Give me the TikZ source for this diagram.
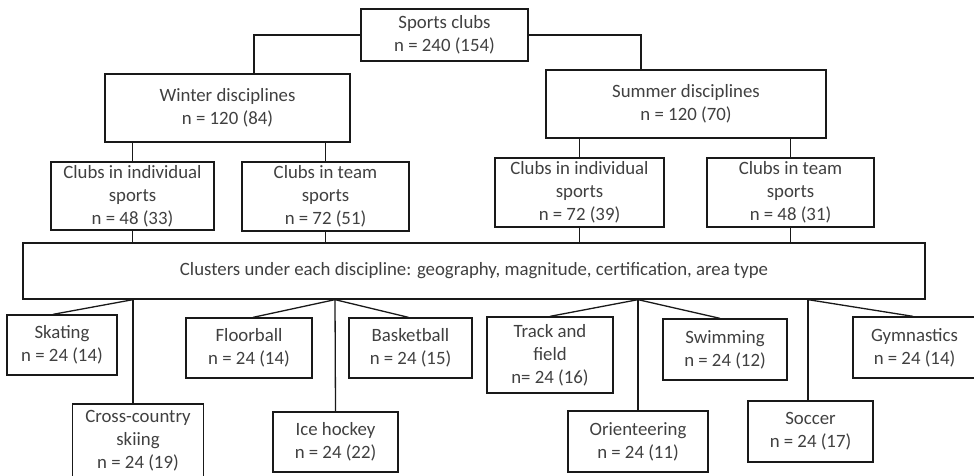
\documentclass[tikz,border=0pt]{standalone}
\usepackage{fontspec}
\setmainfont{Carlito}
\newcommand\boxfont{\fontsize{18.8}{23}\selectfont}
\begin{document}
\begin{tikzpicture}[x=1pt,y=-1pt,
  box/.style={draw=black!90, line width=1.3pt, rectangle, inner sep=0pt,
    align=center, font=\boxfont, text=black!75},
  link/.style={draw=black!90, line width=1.3pt}]
\useasboundingbox (0,0) rectangle (974,476);
\clip (0,0) rectangle (974,476);
\node[box, minimum width=167pt, minimum height=52pt] (sc) at (444.5,35) {Sports clubs\\n = 240 (154)};
\node[box, minimum width=245pt, minimum height=68pt] (win) at (227.5,108) {Winter disciplines\\n = 120 (84)};
\node[box, minimum width=280pt, minimum height=68pt] (sum) at (686,104) {Summer disciplines\\n = 120 (70)};
\node[box, minimum width=163pt, minimum height=68pt] (wind) at (132.5,196) {Clubs in individual\\sports\\n = 48 (33)};
\node[box, minimum width=167pt, minimum height=69pt] (wteam) at (325.5,196.5) {Clubs in team\\sports\\n = 72 (51)};
\node[box, minimum width=169pt, minimum height=69pt] (sind) at (579.5,192.5) {Clubs in individual\\sports\\n = 72 (39)};
\node[box, minimum width=167pt, minimum height=69pt] (steam) at (790.5,192.5) {Clubs in team\\sports\\n = 48 (31)};
\node[box, minimum width=902pt, minimum height=56pt] (cl) at (474,271) {Clusters under each discipline: geography, magnitude, certification, area type};
\node[box, minimum width=110pt, minimum height=60pt] (skat) at (62,345) {Skating\\n = 24 (14)};
\node[box, minimum width=131pt, minimum height=73pt] (cc) at (138,440.5) {Cross-country\\skiing\\n = 24 (19)};
\node[box, minimum width=126pt, minimum height=60pt] (floor) at (249,348) {Floorball\\n = 24 (14)};
\node[box, minimum width=125pt, minimum height=60pt] (ice) at (335.5,442) {Ice hockey\\n = 24 (22)};
\node[box, minimum width=123pt, minimum height=60pt] (basket) at (410.5,348) {Basketball\\n = 24 (15)};
\node[box, minimum width=126pt, minimum height=76pt] (track) at (550,355) {Track and\\field\\n= 24 (16)};
\node[box, minimum width=140pt, minimum height=61pt] (orient) at (638,441.5) {Orienteering\\n = 24 (11)};
\node[box, minimum width=124pt, minimum height=61pt] (swim) at (725,349.5) {Swimming\\n = 24 (12)};
\node[box, minimum width=125pt, minimum height=61pt] (soccer) at (810.5,431.5) {Soccer\\n = 24 (17)};
\node[box, minimum width=123pt, minimum height=61pt] (gym) at (914.5,347.5) {Gymnastics\\n = 24 (14)};
\coordinate (p1) at ([xshift=-341pt]cl.south);
\coordinate (p2) at ([xshift=-139pt]cl.south);
\coordinate (p3) at ([xshift=164pt]cl.south);
\coordinate (p4) at ([xshift=334pt]cl.south);
\draw[link] (sc.west) -| ([xshift=26.5pt]win.north);
\draw[link] (sc.east) -| ([xshift=-45pt]sum.north);
\draw[link] (win.south -| wind.north) -- (wind.north);
\draw[link] (win.south -| wteam.north) -- (wteam.north);
\draw[link] (sum.south -| sind.north) -- (sind.north);
\draw[link] (sum.south -| steam.north) -- (steam.north);
\draw[link] (wind.south) -- (wind.south |- cl.north);
\draw[link] (wteam.south) -- (wteam.south |- cl.north);
\draw[link] (sind.south) -- (sind.south |- cl.north);
\draw[link] (steam.south) -- (steam.south |- cl.north);
\draw[link] (p1) -- ([xshift=-9pt]skat.north);
\draw[link] (p1) -- (p1 |- cc.north);
\draw[link] (p2) -- ([xshift=4pt]floor.north);
\draw[link] (p2) -- (ice.north);
\draw[link] (p2) -- ([xshift=-2pt]basket.north);
\draw[link] (p3) -- (track.north);
\draw[link] (p3) -- (orient.north);
\draw[link] (p3) -- ([xshift=-5pt]swim.north);
\draw[link] (p4) -- (p4 |- soccer.north);
\draw[link] (p4) -- ([xshift=-1.5pt]gym.north);
\end{tikzpicture}
\end{document}
